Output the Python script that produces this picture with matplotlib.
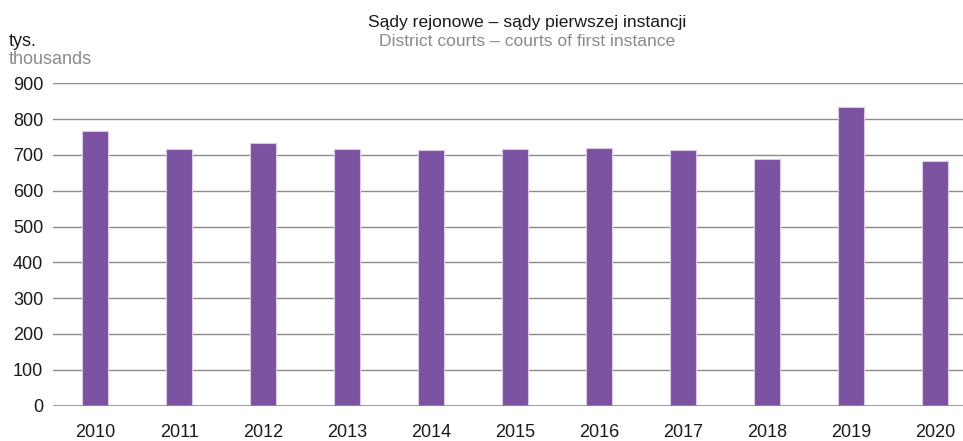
import matplotlib
matplotlib.use("Agg")
import matplotlib.pyplot as plt

years = ["2010", "2011", "2012", "2013", "2014", "2015", "2016", "2017", "2018", "2019", "2020"]
values = [768, 716, 733, 716, 713, 716, 718, 713, 688, 835, 683]
yticks = [0, 100, 200, 300, 400, 500, 600, 700, 800, 900]

plt.rcParams['font.family'] = ['Liberation Sans', 'DejaVu Sans']

W, H = 963, 441
fig = plt.figure(figsize=(W / 100, H / 100), dpi=100)
ax = fig.add_axes([53 / W, 1 - 405.5 / H, (W - 53) / W, (405.5 - 83.3) / H])

x = list(range(len(years)))
ax.bar(x, values, width=0.31, color="#7b52a0", edgecolor="#d9c9e6", linewidth=0.8, zorder=3)
ax.set_xlim(-0.5, 10.33)
ax.set_ylim(0, 900)
ax.set_yticks(yticks)
ax.set_yticklabels([str(t) for t in yticks], fontsize=13, color="#1a1a1a")
ax.set_xticks(x)
ax.set_xticklabels(years, fontsize=13, color="#1a1a1a")
ax.tick_params(axis="both", length=0)
ax.tick_params(axis="y", pad=7)
ax.tick_params(axis="x", pad=13.5)
ax.grid(axis="y", color="#8c8c8c", linewidth=1.0, zorder=0)
for s in ax.spines.values():
    s.set_visible(False)
ax.axhline(0, color="#8c8c8c", linewidth=1.2, zorder=4)

fig.text(527 / W, 1 - 23 / H, "Sądy rejonowe – sądy pierwszej instancji", ha="center", va="center",
         fontsize=12.6, color="#1a1a1a")
fig.text(527 / W, 1 - 41 / H, "District courts – courts of first instance", ha="center", va="center",
         fontsize=12.6, color="#8a8a8a")
fig.text(9 / W, 1 - 42 / H, "tys.", ha="left", va="center", fontsize=13, color="#1a1a1a")
fig.text(9 / W, 1 - 59 / H, "thousands", ha="left", va="center", fontsize=13, color="#8a8a8a")

fig.savefig("out.png", dpi=100)
